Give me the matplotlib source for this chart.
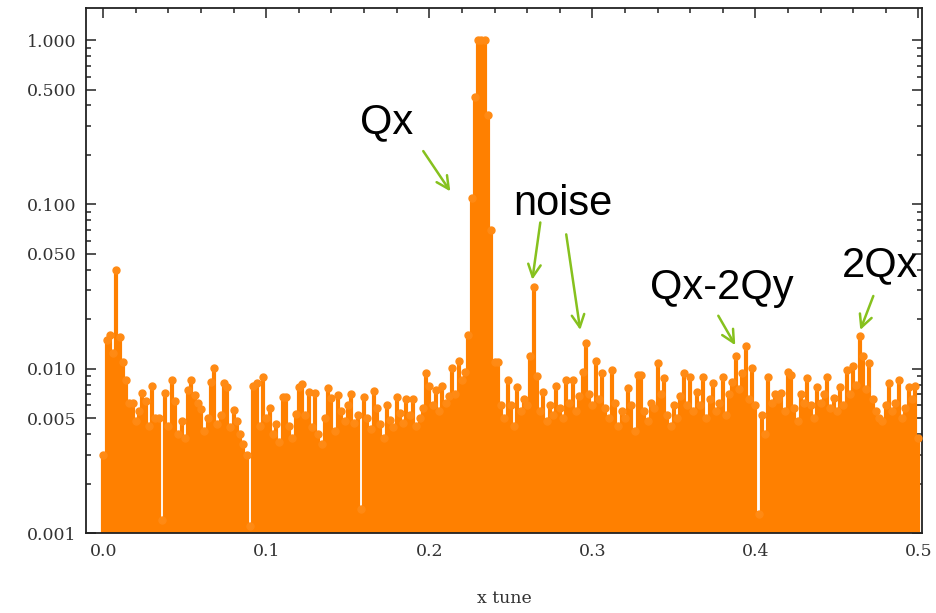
'''Horizontal tune spectrum, log amplitude vs x tune'''

import matplotlib
matplotlib.use('Agg')
import matplotlib.pyplot as plt
import matplotlib.ticker as tck
import numpy as np

# normalised FFT amplitude, one value per 0.002 tune bin from 0.0 to 0.5
amp = [
    0.0030, 0.0150, 0.0160, 0.0125, 0.0400, 0.0155, 0.0110, 0.0085, 0.0062, 0.0062,  # 0.00
    0.0048, 0.0055, 0.0071, 0.0064, 0.0045, 0.0078, 0.0050, 0.0050, 0.0012, 0.0071,  # 0.02
    0.0045, 0.0085, 0.0064, 0.0040, 0.0048, 0.0038, 0.0074, 0.0085, 0.0069, 0.0062,  # 0.04
    0.0057, 0.0042, 0.0050, 0.0083, 0.0101, 0.0046, 0.0052, 0.0082, 0.0077, 0.0044,  # 0.06
    0.0056, 0.0048, 0.0040, 0.0035, 0.0030, 0.0011, 0.0078, 0.0082, 0.0045, 0.0089,  # 0.08
    0.0050, 0.0058, 0.0040, 0.0046, 0.0036, 0.0067, 0.0067, 0.0045, 0.0038, 0.0053,  # 0.10
    0.0077, 0.0081, 0.0052, 0.0072, 0.0044, 0.0071, 0.0040, 0.0035, 0.0050, 0.0076,  # 0.12
    0.0066, 0.0042, 0.0069, 0.0055, 0.0048, 0.0060, 0.0070, 0.0047, 0.0052, 0.0014,  # 0.14
    0.0067, 0.0050, 0.0043, 0.0073, 0.0058, 0.0046, 0.0038, 0.0060, 0.0049, 0.0044,  # 0.16
    0.0067, 0.0054, 0.0047, 0.0065, 0.0052, 0.0065, 0.0045, 0.0050, 0.0058, 0.0094,  # 0.18
    0.0079, 0.0060, 0.0074, 0.0055, 0.0079, 0.0062, 0.0068, 0.0101, 0.0070, 0.0111,  # 0.20
    0.0085, 0.0095, 0.0160, 0.1100, 0.4500, 1.0000, 1.0000, 1.0000, 0.3500, 0.0700,  # 0.22
    0.0110, 0.0110, 0.0060, 0.0050, 0.0085, 0.0060, 0.0045, 0.0077, 0.0055, 0.0065,  # 0.24
    0.0060, 0.0120, 0.0316, 0.0090, 0.0055, 0.0072, 0.0048, 0.0060, 0.0052, 0.0079,  # 0.26
    0.0058, 0.0050, 0.0085, 0.0062, 0.0085, 0.0055, 0.0068, 0.0095, 0.0143, 0.0070,  # 0.28
    0.0060, 0.0111, 0.0065, 0.0094, 0.0058, 0.0050, 0.0098, 0.0062, 0.0045, 0.0055,  # 0.30
    0.0050, 0.0076, 0.0060, 0.0042, 0.0091, 0.0091, 0.0055, 0.0048, 0.0062, 0.0058,  # 0.32
    0.0108, 0.0070, 0.0088, 0.0052, 0.0045, 0.0060, 0.0050, 0.0068, 0.0094, 0.0060,  # 0.34
    0.0089, 0.0055, 0.0072, 0.0060, 0.0089, 0.0050, 0.0065, 0.0082, 0.0055, 0.0062,  # 0.36
    0.0089, 0.0052, 0.0070, 0.0083, 0.0119, 0.0075, 0.0094, 0.0137, 0.0065, 0.0101,  # 0.38
    0.0060, 0.0013, 0.0052, 0.0040, 0.0089, 0.0062, 0.0070, 0.0065, 0.0071, 0.0055,  # 0.40
    0.0095, 0.0092, 0.0058, 0.0048, 0.0070, 0.0062, 0.0088, 0.0060, 0.0050, 0.0077,  # 0.42
    0.0062, 0.0070, 0.0089, 0.0058, 0.0066, 0.0055, 0.0077, 0.0060, 0.0098, 0.0070,  # 0.44
    0.0104, 0.0080, 0.0158, 0.0119, 0.0075, 0.0108, 0.0065, 0.0055, 0.0050, 0.0048,  # 0.46
    0.0060, 0.0082, 0.0055, 0.0062, 0.0085, 0.0050, 0.0058, 0.0077, 0.0065, 0.0079,  # 0.48
    0.0038,                                                                          # 0.50
]
tune = np.round(np.arange(len(amp)) * 0.002, 3)

yMajor = [0.001, 0.005, 0.01, 0.05, 0.1, 0.5, 1.0]
xMajor = [0.0, 0.1, 0.2, 0.3, 0.4, 0.5]

# labels: (text, text pos, [arrow tail, arrow head], ...)
labels = [
    ('Qx', (0.1577, 0.272), [((0.1963, 0.211), (0.2129, 0.120))]),
    ('noise', (0.2515, 0.0857), [((0.2681, 0.0776), (0.2632, 0.0348)),
                                 ((0.2840, 0.0657), (0.2926, 0.0172))]),
    ('Qx-2Qy', (0.3356, 0.0266), [((0.3773, 0.0210), (0.3877, 0.0139))]),
    ('2Qx', (0.4534, 0.0363), [((0.4724, 0.0277), (0.4644, 0.0172))]),
]

orange = '#ff8000'
green = '#86c11e'

fig = plt.figure(figsize=(9.36, 6.13), dpi=100)
ax = fig.add_axes([0.0919, 0.1305, 0.8932, 0.8564])
ax.set_yscale('log')

ymin = 0.001
# stems down to the frame, wide enough to merge into a filled band
ax.vlines(tune, ymin, amp, color=orange, lw=3.0, zorder=2)
ax.plot(tune, amp, 'o', color='#ff8a14', ms=5, ls='', zorder=3)

ax.set_xlim(-0.0106, 0.5023)
ax.set_ylim(ymin, 1.567)

# Mathematica-like frame ticks
ax.yaxis.set_major_locator(tck.FixedLocator(yMajor))
ax.yaxis.set_major_formatter(tck.FuncFormatter(lambda v, p: '%.3f' % v))
minors = []
for dec in [0.001, 0.01, 0.1]:
    for k in [2, 3, 4, 6, 7, 8, 9]:
        minors.append(k * dec)
ax.yaxis.set_minor_locator(tck.FixedLocator(minors))
ax.yaxis.set_minor_formatter(tck.NullFormatter())

ax.xaxis.set_major_locator(tck.FixedLocator(xMajor))
ax.xaxis.set_major_formatter(tck.FormatStrFormatter('%.1f'))
ax.xaxis.set_minor_locator(tck.MultipleLocator(0.02))

ax.tick_params(which='both', direction='in', top=True, right=True,
               color='#222222', width=1.1)
ax.tick_params(which='major', length=7, pad=7)
ax.tick_params(which='minor', length=3.5)
for lab in ax.get_xticklabels() + ax.get_yticklabels():
    lab.set_family('DejaVu Serif')
    lab.set_fontsize(12.5)
    lab.set_color('#333333')
for sp in ax.spines.values():
    sp.set_linewidth(1.3)
    sp.set_color('#222222')

ax.set_xlabel('x tune', family='DejaVu Serif', fontsize=12.5, color='#333333',
              labelpad=22)

for text, pos, arrows in labels:
    ax.text(pos[0], pos[1], text, fontsize=30, family='Liberation Sans',
            ha='left', va='baseline', color='black', zorder=5)
    for tail, head in arrows:
        ax.annotate('', xy=head, xytext=tail,
                    arrowprops=dict(arrowstyle='->,head_length=0.9,head_width=0.45',
                                    color=green, lw=1.8, shrinkA=0, shrinkB=0),
                    zorder=5)

fig.savefig('out.png', dpi=100)
